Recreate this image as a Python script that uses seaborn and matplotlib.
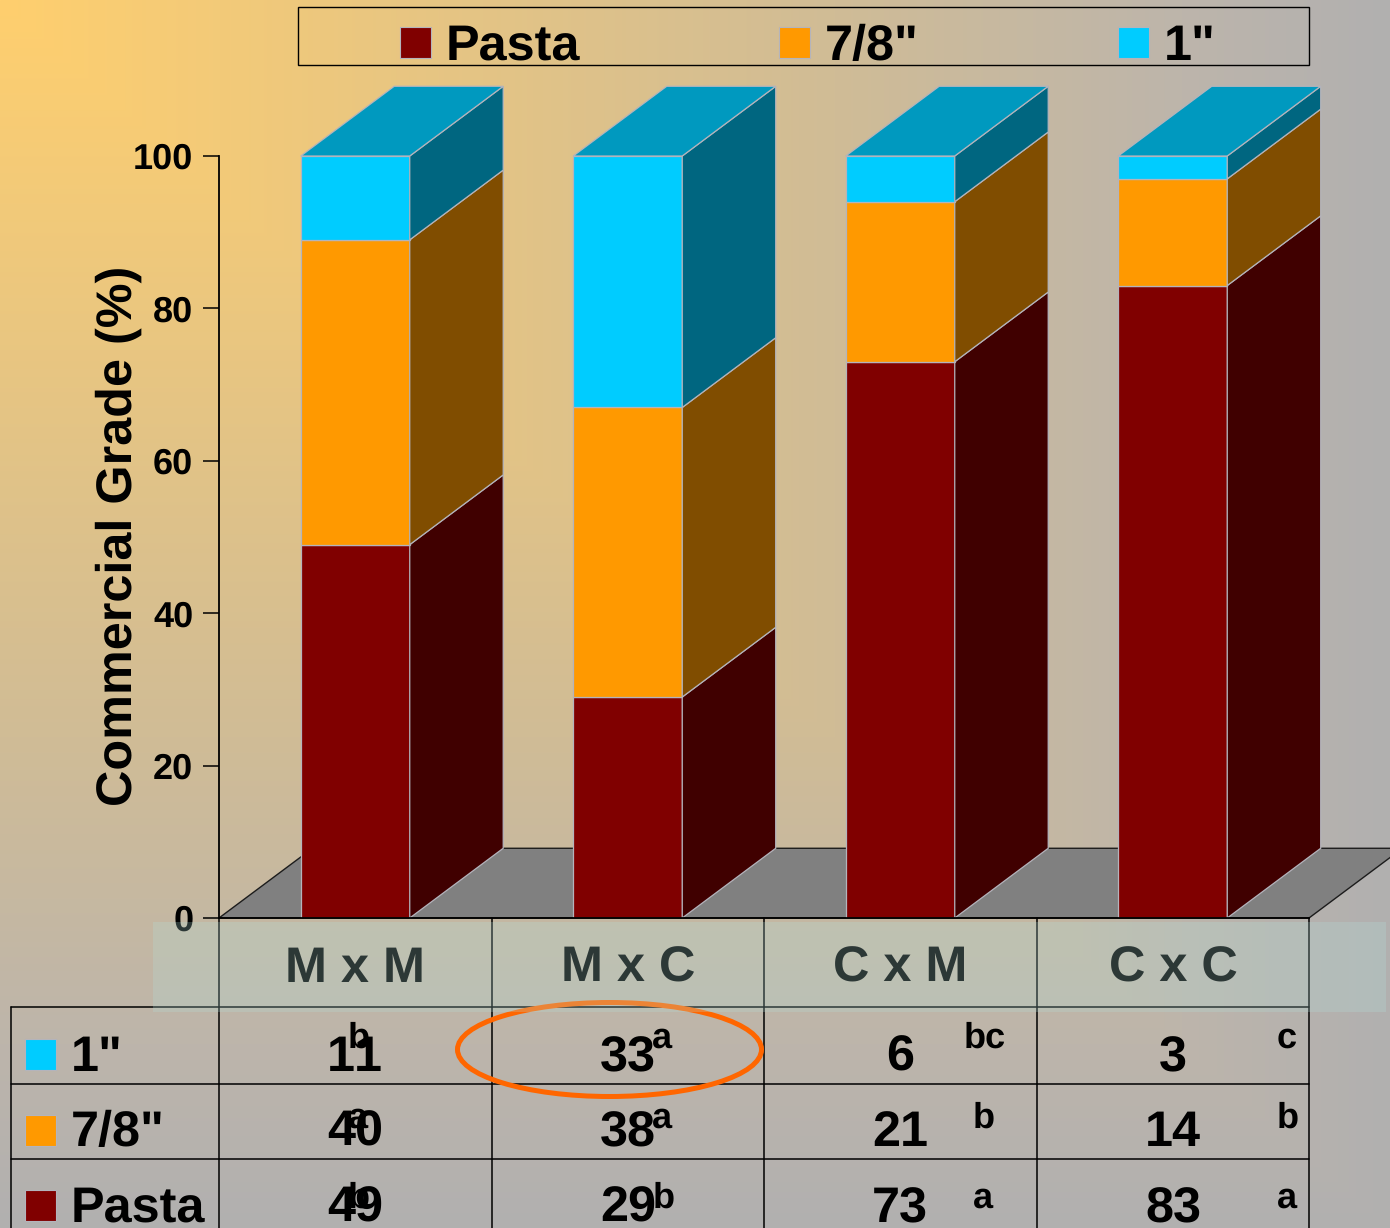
import numpy as np
import pandas as pd
import matplotlib
matplotlib.use("Agg")
import matplotlib.pyplot as plt
import matplotlib.transforms as mtransforms
from matplotlib.lines import Line2D
from matplotlib.patches import Ellipse, Polygon, Rectangle
import seaborn as sns

# Cross combinations and the share of each commercial grade (%)
crosses = ["M x M", "M x C", "C x M", "C x C"]
pasta = [49, 29, 73, 83]
seven_eighths = [40, 38, 21, 14]
one_inch = [11, 33, 6, 3]

# Mean-separation letters, one per cross
pasta_letters = ["b", "b", "a", "a"]
seven_eighths_letters = ["a", "a", "b", "b"]
one_inch_letters = ["b", "a", "bc", "c"]

series_names = ["Pasta", '7/8"', '1"']
front_colors = ["#800000", "#FF9900", "#00CCFF"]
side_colors = ["#400000", "#804D00", "#006680"]
top_color = "#0099BF"
floor_color = "#808080"
edge_color = "#B4B4BC"

WIDTH, HEIGHT = 1390, 1228
BAR_WIDTH = 0.4
DEPTH_X, DEPTH_Y = 0.343, 9.15  # oblique offset of the box faces, in data units
TEXT_SIZE = 36.3

sns.set_theme(style="ticks")
plt.rcParams["font.family"] = ["Liberation Sans", "DejaVu Sans"]
plt.rcParams["font.weight"] = "bold"
plt.rcParams["text.hinting"] = "no_hinting"
plt.rcParams["text.kerning_factor"] = 6

fig = plt.figure(figsize=(WIDTH / 100, HEIGHT / 100), dpi=100)
px = mtransforms.Affine2D().scale(1 / WIDTH, -1 / HEIGHT).translate(0, 1) + fig.transFigure

# Corner-path backdrop: colour depends on the larger of the two relative distances
bg_ax = fig.add_axes([0, 0, 1, 1], zorder=-1)
yy, xx = np.mgrid[0:HEIGHT, 0:WIDTH]
t = np.maximum(xx / WIDTH, yy / HEIGHT)
stops = [0, 0.6, 0.85, 1]
backdrop = np.dstack([
    np.interp(t, stops, [255, 208, 189, 177]),
    np.interp(t, stops, [207, 188, 181, 176]),
    np.interp(t, stops, [110, 150, 171, 176]),
]) / 255
bg_ax.imshow(backdrop, aspect="auto", interpolation="bilinear")
bg_ax.axis("off")

ax = fig.add_axes([219 / WIDTH, 1 - 918 / HEIGHT, 1090 / WIDTH, 762 / HEIGHT], zorder=1)
ax.patch.set_alpha(0)

# Floor of the box
floor = Polygon(
    [(-0.5, 0), (3.5, 0), (3.5 + DEPTH_X, DEPTH_Y), (-0.5 + DEPTH_X, DEPTH_Y)],
    closed=True, facecolor=floor_color, edgecolor="#1c1c1c", linewidth=1,
    clip_on=False, zorder=0.5,
)
ax.add_patch(floor)

# Stacked front faces
frame = pd.DataFrame({"cross": crosses, "Pasta": pasta, '7/8"': seven_eighths, '1"': one_inch})
bottoms = np.zeros(len(crosses))
for name, front, side in zip(series_names, front_colors, side_colors):
    values = frame[name].to_numpy(dtype=float)
    sns.barplot(
        data=frame, x="cross", y=name, order=crosses, bottom=bottoms, width=BAR_WIDTH,
        color=front, saturation=1, errorbar=None, edgecolor=edge_color, linewidth=0.9,
        ax=ax, zorder=2,
    )
    # Right-hand face of each segment
    for i, (b, v) in enumerate(zip(bottoms, values)):
        right = i + BAR_WIDTH / 2
        ax.add_patch(Polygon(
            [(right, b), (right + DEPTH_X, b + DEPTH_Y),
             (right + DEPTH_X, b + v + DEPTH_Y), (right, b + v)],
            closed=True, facecolor=side, edgecolor=edge_color, linewidth=0.9,
            clip_on=False, zorder=2,
        ))
    bottoms = bottoms + values

# Top faces
for i, total in enumerate(bottoms):
    left, right = i - BAR_WIDTH / 2, i + BAR_WIDTH / 2
    ax.add_patch(Polygon(
        [(left, total), (right, total), (right + DEPTH_X, total + DEPTH_Y),
         (left + DEPTH_X, total + DEPTH_Y)],
        closed=True, facecolor=top_color, edgecolor=edge_color, linewidth=0.9,
        clip_on=False, zorder=2,
    ))

ax.set_xlim(-0.5, 3.5)
ax.set_ylim(0, 100)
ax.set_yticks(range(0, 101, 20))
ax.set_xticks([])
ax.set_xlabel("")
ax.set_ylabel("")
ax.tick_params(axis="y", length=11.5, width=1.1, color="black", pad=7, labelsize=26, labelcolor="black")
for lab in ax.get_yticklabels():
    lab.set_fontweight("bold")
for spine in ["top", "right"]:
    ax.spines[spine].set_visible(False)
for spine in ["left", "bottom"]:
    ax.spines[spine].set_linewidth(1.3)
    ax.spines[spine].set_color("black")
    ax.spines[spine].set_zorder(3)

fig.text(119, 536, "Commercial Grade (%)", transform=px, rotation=90, ha="center", va="center",
         fontsize=TEXT_SIZE, fontweight="bold", color="black")


def swatch(x, y, color):
    fig.add_artist(Rectangle((x, y), 31, 31, transform=px, facecolor=color,
                             edgecolor=edge_color, linewidth=0.8, zorder=3))


# Legend strip above the plot
fig.add_artist(Rectangle((298, 7), 1011, 58, transform=px, facecolor="none",
                         edgecolor="black", linewidth=1, zorder=3))
for name, color, x in zip(series_names, front_colors, [400, 779, 1118]):
    swatch(x, 27, color)
    fig.text(x + 46, 60, name, transform=px, fontsize=TEXT_SIZE, fontweight="bold", color="black",
             ha="left", va="baseline", zorder=4)

# Data table under the plot
column_edges = [219, 491.5, 764, 1036.5, 1309]
column_centers = [355, 628, 900, 1173]
rows = [
    ('1"', one_inch, one_inch_letters, front_colors[2], 1039, 1071, 1048),
    ('7/8"', seven_eighths, seven_eighths_letters, front_colors[1], 1115, 1146, 1128),
    ("Pasta", pasta, pasta_letters, front_colors[0], 1190, 1222, 1208),
]
letter_x = [
    [359, 662, 985, 1287],
    [358, 662, 984, 1288],
    [359, 664, 983, 1287],
]


def rule(x0, y0, x1, y1):
    fig.add_artist(Line2D([x0, x1], [y0, y1], transform=px, color="black", linewidth=1.1, zorder=3))


for y in [1007, 1084, 1159]:
    rule(11, y, 1309, y)
rule(11, 1007, 11, HEIGHT)
for x in column_edges:
    rule(x, 918, x, HEIGHT)

for cross, x in zip(crosses, column_centers):
    fig.text(x, 982, cross, transform=px, fontsize=TEXT_SIZE, fontweight="bold", color="black",
             ha="center", va="baseline", zorder=3.5)

for (label, values, letters, color, swatch_y, baseline, letter_base), xs in zip(rows, letter_x):
    swatch(25, swatch_y, color)
    fig.text(71, baseline, label, transform=px, fontsize=TEXT_SIZE, fontweight="bold", color="black",
             ha="left", va="baseline", zorder=4)
    for value, letter, x, lx in zip(values, letters, column_centers, xs):
        fig.text(x, baseline, str(value), transform=px, fontsize=TEXT_SIZE, fontweight="bold",
                 color="black", ha="center", va="baseline", zorder=4)
        fig.text(lx, letter_base, letter, transform=px, fontsize=26, fontweight="bold",
                 color="black", ha="center", va="baseline", zorder=4)

# Highlight around the 1" value of the M x C cross
fig.add_artist(Ellipse((609.5, 1049.5), 304, 94, transform=px, facecolor="none",
                       edgecolor="#FF6600", linewidth=3.6, zorder=4))

# Translucent band across the header row
fig.add_artist(Rectangle((153, 922), 1233, 90, transform=px, facecolor=(0.70, 0.88, 0.86),
                         edgecolor="none", alpha=0.25, zorder=6))

fig.savefig("out.png", dpi=100)
